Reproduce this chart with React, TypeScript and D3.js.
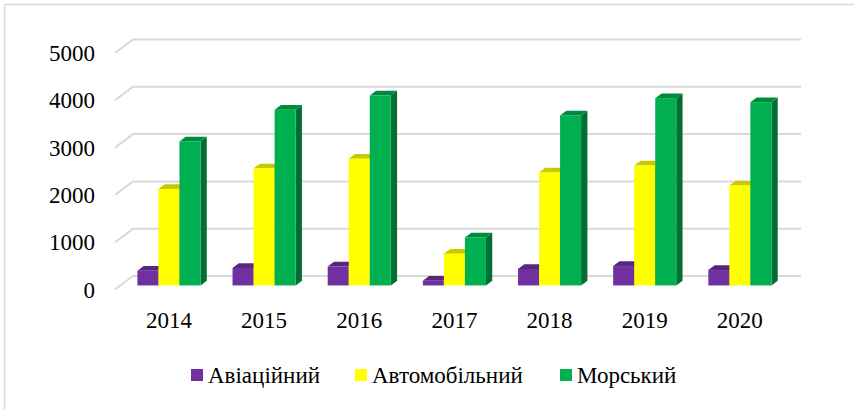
import React from 'react';
import * as d3 from 'd3';

const years = ['2014', '2015', '2016', '2017', '2018', '2019', '2020'];
const seriesNames = ['Авіаційний', 'Автомобільний', 'Морський'];
const aviation = [310, 370, 400, 100, 350, 410, 325];
const auto = [2040, 2475, 2680, 670, 2390, 2535, 2115];
const sea = [3045, 3715, 4015, 1015, 3595, 3960, 3875];
const yTicks = [0, 1000, 2000, 3000, 4000, 5000];

const W = 854;
const H = 409;
const font = 'Liberation Serif';

// front face / top face / side face
const palette = [
  ['#7030a0', '#58267f', '#4a1f6b'],
  ['#ffff00', '#c9c900', '#a8a800'],
  ['#00b050', '#008a3e', '#006f31'],
];

// floor depth (front edge -> back wall)
const DX = 18;
const DY = -13.5;
// bars sit between these fractions of the depth
const BAR_FRONT = 0.3;
const BAR_BACK = 0.65;

const Label = (props: any) => (
  <text
    dy="0.35em"
    fontSize={23}
    fontFamily={font}
    style={{ fontFamily: font }}
    fill="#000"
    {...props}
  />
);

const App = () => {
  const data = [aviation, auto, sea];

  // value scale on the front plane of the floor
  const y = d3.scaleLinear().domain([0, 5000]).range([289.5, 53]);
  const xLeft = 115;
  const xRight = 783;

  const x = d3
    .scaleBand<string>()
    .domain(years)
    .range([xLeft + 1, xRight - 1])
    .paddingInner(0.337)
    .paddingOuter(0.168);
  const xs = d3.scaleBand<number>().domain([0, 1, 2]).range([0, x.bandwidth()]);

  const bx = BAR_FRONT * DX;
  const by = BAR_FRONT * DY;
  const ox = (BAR_BACK - BAR_FRONT) * DX;
  const oy = (BAR_BACK - BAR_FRONT) * DY;

  const bars: JSX.Element[] = [];
  years.forEach((yr, i) => {
    data.forEach((vals, s) => {
      const v = vals[i];
      const x0 = (x(yr) as number) + (xs(s) as number) + bx;
      const w = xs.bandwidth();
      const yb = y(0) + by;
      const yt = y(v) + by;
      const [cf, ct, cs] = palette[s];
      bars.push(
        <g key={`${yr}-${s}`}>
          <polygon
            points={`${x0 + w},${yt} ${x0 + w + ox},${yt + oy} ${x0 + w + ox},${yb + oy} ${x0 + w},${yb}`}
            fill={cs}
          />
          <polygon
            points={`${x0},${yt} ${x0 + ox},${yt + oy} ${x0 + w + ox},${yt + oy} ${x0 + w},${yt}`}
            fill={ct}
          />
          <rect x={x0} y={yt} width={w} height={yb - yt} fill={cf} />
        </g>
      );
    });
  });

  const legendX = [191, 355, 560];

  return (
    <svg width={W} height={H} style={{ position: 'absolute', left: 0, top: 0 }}>
      <rect x={0} y={0} width={W} height={H} fill="#fff" />
      <line x1={4.5} y1={4.5} x2={W} y2={4.5} stroke="#d9d9d9" strokeWidth={1.5} />
      <line x1={4.5} y1={4.5} x2={4.5} y2={H} stroke="#d9d9d9" strokeWidth={1.5} />

      {yTicks.map((t) => (
        <g key={t}>
          <polyline
            points={`${xLeft},${y(t)} ${xLeft + DX},${y(t) + DY} ${xRight + DX},${y(t) + DY}`}
            fill="none"
            stroke="#d9d9d9"
            strokeWidth={2}
          />
          <Label x={95} y={y(t)} textAnchor="end">
            {t}
          </Label>
        </g>
      ))}

      {bars}

      {years.map((yr) => (
        <Label key={yr} x={(x(yr) as number) + x.bandwidth() / 2 + bx} y={320} textAnchor="middle">
          {yr}
        </Label>
      ))}

      {seriesNames.map((name, s) => (
        <g key={name} transform={`translate(${legendX[s]},369)`}>
          <rect x={0} y={0} width={12} height={12} fill={palette[s][0]} />
          <Label x={17} y={6}>
            {name}
          </Label>
        </g>
      ))}
    </svg>
  );
};

export default App;
